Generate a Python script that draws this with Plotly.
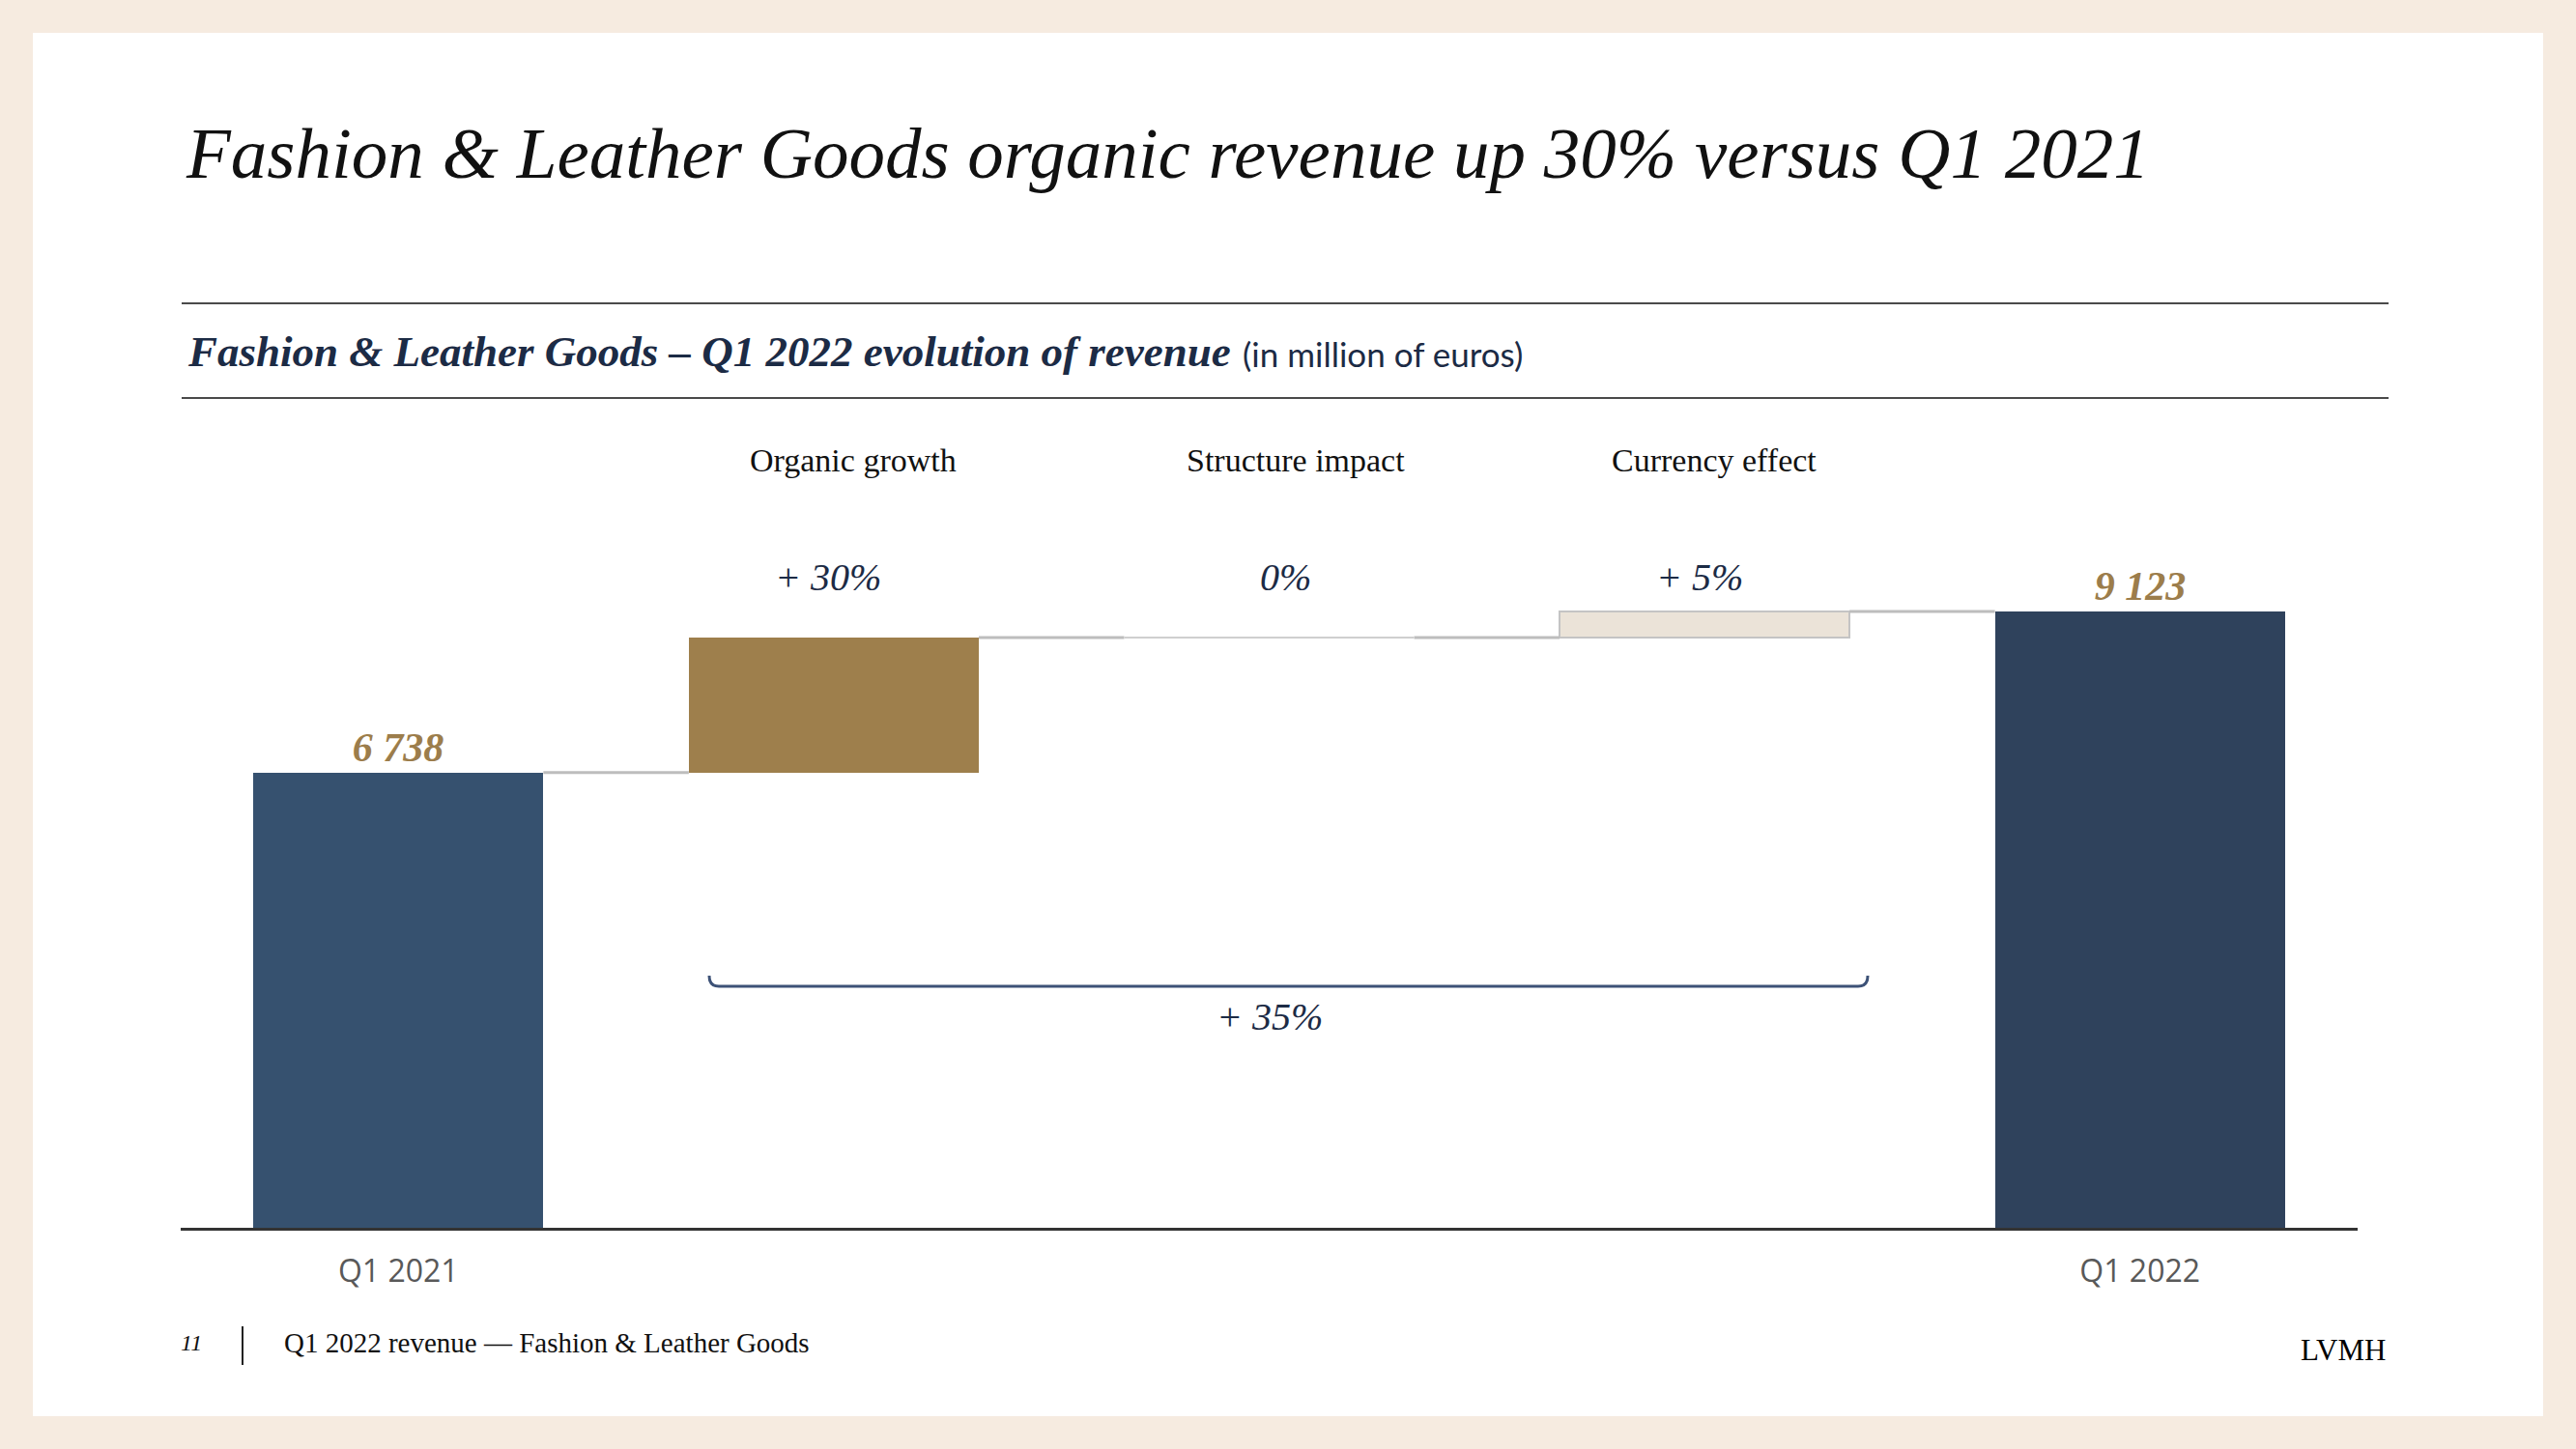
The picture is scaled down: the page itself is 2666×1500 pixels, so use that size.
import plotly.graph_objects as go

# data
categories = ["Q1 2021", "Organic growth", "Structure impact", "Currency effect", "Q1 2022"]
totals = [6738, 9123]
deltas = [2000, 0, 385]          # organic, structure, currency (million euros)
delta_labels = ["+ 30%", "0%", "+ 5%"]
total_change_label = "+ 35%"

# colours
PANEL_BG = "#f6ebe0"
NAVY_TEXT = "#1c2b45"
GOLD = "#9c7d4b"
Q1_2021_COL = "#36516f"
Q1_2022_COL = "#2f425c"
ORGANIC_COL = "#9e7f4c"
CURRENCY_COL = "#ebe3d8"
CONNECTOR = "#bdbdbd"

# page geometry (pixels)
WIDTH, HEIGHT = 2666, 1500
L, R, T, B = 187, 2440, 420, 1271
PW, PH = R - L, B - T


def px(x):
    return (x - L) / PW


def py(y):
    return (B - y) / PH


fig = go.Figure()

# cumulative bases for the delta bars
bases = []
run = totals[0]
for d in deltas:
    bases.append(run)
    run += d

bar_w = 0.666
x_tot = [0, 4]
x_delta = [1, 2, 3]

fig.add_trace(go.Bar(
    x=x_tot, y=totals, width=bar_w,
    marker=dict(color=[Q1_2021_COL, Q1_2022_COL], line=dict(width=0)),
    text=[f"{v:,}".replace(",", " ") for v in totals],
    textposition="outside",
    textfont=dict(family="Liberation Serif", size=42, color=GOLD, style="italic", weight="bold"),
    cliponaxis=False, showlegend=False, hoverinfo="skip",
))

fig.add_trace(go.Bar(
    x=x_delta, y=deltas, base=bases, width=bar_w,
    marker=dict(color=[ORGANIC_COL, "rgba(0,0,0,0)", CURRENCY_COL],
                line=dict(color=["rgba(0,0,0,0)", "rgba(0,0,0,0)", "#c4c4c4"], width=[0, 0, 2])),
    showlegend=False, hoverinfo="skip",
))

# connectors between bars
levels = [totals[0]] + [b + d for b, d in zip(bases, deltas)]
half = bar_w / 2
for i, lvl in enumerate(levels):
    fig.add_trace(go.Scatter(
        x=[i + half, i + 1 - half], y=[lvl, lvl], mode="lines",
        line=dict(color=CONNECTOR, width=3), showlegend=False, hoverinfo="skip",
    ))
# zero-height structure bar drawn as a thin line
fig.add_trace(go.Scatter(
    x=[2 - half, 2 + half], y=[bases[1], bases[1]], mode="lines",
    line=dict(color="#cfcfcf", width=2), showlegend=False, hoverinfo="skip",
))

annotations = []
shapes = []

# white panel
shapes.append(dict(type="rect", xref="paper", yref="paper",
                   x0=px(34), x1=px(2632), y0=py(1466), y1=py(34),
                   fillcolor="white", line=dict(width=0), layer="below"))
# horizontal rules around subtitle
for yy in (314, 412):
    shapes.append(dict(type="line", xref="paper", yref="paper",
                       x0=px(188), x1=px(2472), y0=py(yy), y1=py(yy),
                       line=dict(color="#4a4a4a", width=2)))

# title
annotations.append(dict(
    text="Fashion &amp; Leather Goods organic revenue up 30% versus Q1 2021",
    xref="paper", yref="paper", x=px(190), y=py(158), xanchor="left", yanchor="middle",
    showarrow=False, font=dict(family="Liberation Serif", size=75, color="#111111", style="italic"),
))
# subtitle
annotations.append(dict(
    text="Fashion &amp; Leather Goods – Q1 2022 evolution of revenue",
    xref="paper", yref="paper", x=px(192), y=py(364), xanchor="left", yanchor="middle",
    showarrow=False, font=dict(family="Liberation Serif", size=45, color=NAVY_TEXT,
                               style="italic", weight="bold"),
))
annotations.append(dict(
    text="(in million of euros)",
    xref="paper", yref="paper", x=px(1284), y=py(366), xanchor="left", yanchor="middle",
    showarrow=False, font=dict(family="Lato", size=35, color=NAVY_TEXT),
))

# category headers and percentage labels
header_shift = [20, 27, 10]
pct_shift = [-6, 17, -5]
for i, (cat, lab) in enumerate(zip(categories[1:4], delta_labels)):
    annotations.append(dict(
        text=cat, xref="x", yref="paper", x=x_delta[i], y=py(476), xshift=header_shift[i],
        xanchor="center", yanchor="middle", showarrow=False,
        font=dict(family="Liberation Serif", size=34, color="#111111"),
    ))
    annotations.append(dict(
        text=lab, xref="x", yref="paper", x=x_delta[i], y=py(597), xshift=pct_shift[i],
        xanchor="center", yanchor="middle", showarrow=False,
        font=dict(family="Liberation Serif", size=40, color=NAVY_TEXT, style="italic"),
    ))

# bracket for total change
bx0, bx1, by = 734, 1933, 1021
shapes.append(dict(
    type="path", xref="paper", yref="paper",
    path=(f"M {px(bx0)},{py(by - 11)} Q {px(bx0)},{py(by)} {px(bx0 + 10)},{py(by)} "
          f"L {px(bx1 - 10)},{py(by)} Q {px(bx1)},{py(by)} {px(bx1)},{py(by - 11)}"),
    line=dict(color="#3d5277", width=3),
))
annotations.append(dict(
    text=total_change_label, xref="paper", yref="paper", x=px(1314), y=py(1052),
    xanchor="center", yanchor="middle", showarrow=False,
    font=dict(family="Liberation Serif", size=40, color=NAVY_TEXT, style="italic"),
))

# footer
annotations.append(dict(
    text="11", xref="paper", yref="paper", x=px(185), y=py(1390), xanchor="left", yanchor="middle",
    showarrow=False, font=dict(family="Liberation Serif", size=24, color="#111111", style="italic"),
))
shapes.append(dict(type="line", xref="paper", yref="paper",
                   x0=px(251), x1=px(251), y0=py(1373), y1=py(1413),
                   line=dict(color="#222222", width=2)))
annotations.append(dict(
    text="Q1 2022 revenue — Fashion &amp; Leather Goods", xref="paper", yref="paper",
    x=px(292), y=py(1390), xanchor="left", yanchor="middle", showarrow=False,
    font=dict(family="Liberation Serif", size=29, color="#111111"),
))
annotations.append(dict(
    text="LVMH", xref="paper", yref="paper", x=px(2471), y=py(1397), xanchor="right", yanchor="middle",
    showarrow=False, font=dict(family="Liberation Serif", size=31, color="#000000"),
))

fig.update_layout(
    width=WIDTH, height=HEIGHT,
    margin=dict(l=L, r=WIDTH - R, t=T, b=HEIGHT - B, pad=0),
    paper_bgcolor=PANEL_BG, plot_bgcolor="rgba(0,0,0,0)",
    barmode="overlay", bargap=0,
    xaxis=dict(range=[-0.5, 4.5], tickvals=x_tot, ticktext=[categories[0], categories[4]],
               showgrid=False, zeroline=False, showline=True, linecolor="#333333", linewidth=3,
               ticks="", tickfont=dict(family="Open Sans", size=32, color="#595959"),
               ticklabelstandoff=15, fixedrange=True),
    yaxis=dict(range=[0, 12170], visible=False, fixedrange=True),
    shapes=shapes, annotations=annotations,
    showlegend=False,
)

# drop the default body margin so the figure sits at the page origin
fig.write_html("out.html", config={"displayModeBar": False},
               post_script="document.body.style.margin='0';")
